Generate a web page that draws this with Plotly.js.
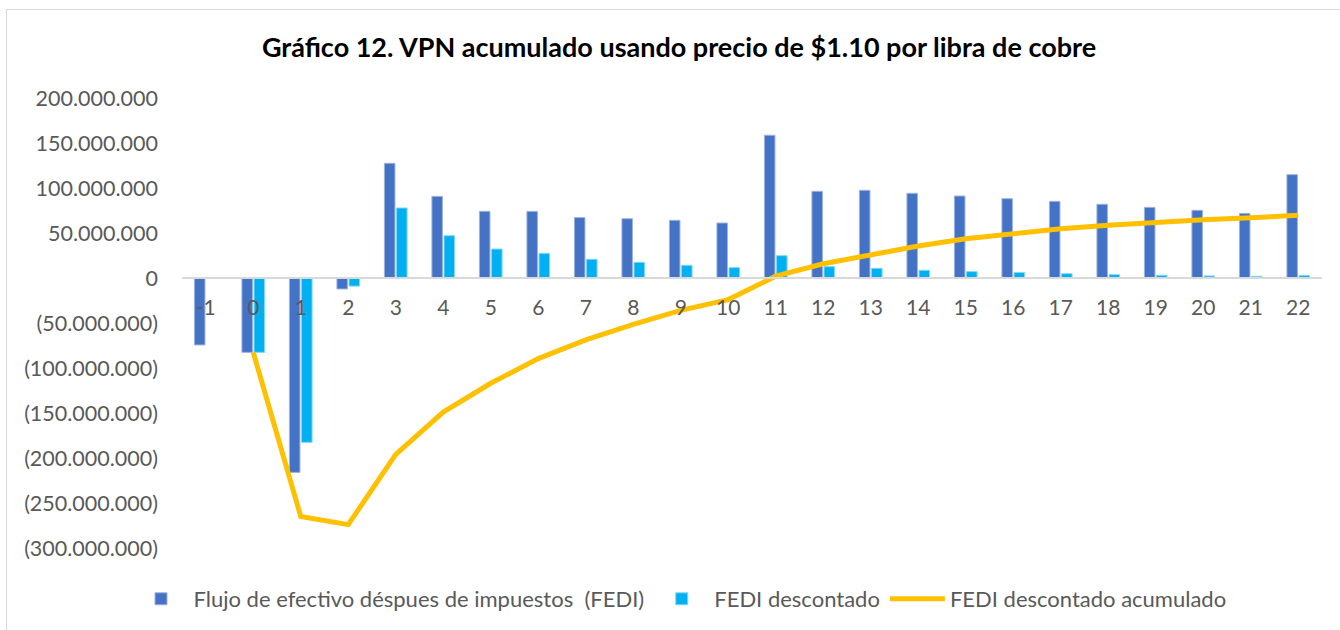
<!DOCTYPE html>
<html>
<head>
<meta charset="utf-8">
<script src="https://cdn.plot.ly/plotly-3.0.1.min.js"></script>
<style>
html,body{margin:0;padding:0;background:#fff;}
#wrap{position:relative;width:1340px;height:630px;overflow:hidden;}
#chart{width:1340px;height:630px;}
#frame{position:absolute;left:6px;top:9px;width:1400px;height:700px;border-left:1.5px solid #D9D9D9;border-top:1.5px solid #D9D9D9;pointer-events:none;}
</style>
</head>
<body>
<div id="wrap"><div id="chart"></div><div id="frame"></div></div>
<script>
// Data
const periods = ["-1","0","1","2","3","4","5","6","7","8","9","10","11","12","13","14","15","16","17","18","19","20","21","22"];
const fedi = [-74400000,-82600000,-216000000,-12200000,127400000,90700000,74100000,74000000,67100000,65900000,64100000,61100000,158600000,96300000,97400000,94100000,91100000,88100000,85200000,81900000,78500000,75200000,71800000,114800000];
const fediDescontado = [null,-82600000,-182600000,-9000000,77800000,47000000,32200000,27400000,20800000,17400000,14100000,11500000,24800000,12600000,10800000,8600000,7100000,6000000,4800000,3700000,3000000,2300000,1900000,2800000];
const acumPeriods = ["0","1","2","3","4","5","6","7","8","9","10","11","12","13","14","15","16","17","18","19","20","21","22"];
const fediAcumulado = [-82600000,-265000000,-274000000,-196000000,-149000000,-117000000,-89500000,-68800000,-51500000,-36000000,-24000000,2000000,15800000,26000000,35500000,43500000,49600000,54800000,58600000,62000000,64800000,67000000,69600000];
const yTickVals = [200000000,150000000,100000000,50000000,0,-50000000,-100000000,-150000000,-200000000,-250000000,-300000000];
const yTickText = ["200.000.000","150.000.000","100.000.000","50.000.000","0","(50.000.000)","(100.000.000)","(150.000.000)","(200.000.000)","(250.000.000)","(300.000.000)"];
const names = ["Flujo de efectivo déspues de impuestos  (FEDI)","FEDI descontado","FEDI descontado acumulado"];
const titleText = "Gráfico 12. VPN acumulado usando precio de $1.10 por libra de cobre";

const traces = [
  {type:'bar', name:names[0], x:periods, y:fedi,
   marker:{color:'#4472C4', line:{color:'#9DB3E0', width:1}}, hoverinfo:'x+y'},
  {type:'bar', name:names[1], x:periods, y:fediDescontado,
   marker:{color:'#00B0F0', line:{color:'#80D7F7', width:1}}, hoverinfo:'x+y'},
  {type:'scatter', mode:'lines', name:names[2], x:acumPeriods, y:fediAcumulado,
   line:{color:'#FFC000', width:5, shape:'linear'}, hoverinfo:'x+y'}
];

const font = {family:'Lato, "Open Sans", sans-serif', color:'#595959'};

const layout = {
  width:1340, height:630,
  paper_bgcolor:'#FFFFFF', plot_bgcolor:'#FFFFFF',
  margin:{l:182, r:18, t:98, b:82},
  font:font,
  title:{text:titleText, font:{family:'Lato, sans-serif', size:27, color:'#000000', weight:700},
         x:679/1340, xref:'container', xanchor:'center', y:1-48/630, yref:'container', yanchor:'middle'},
  barmode:'group', bargap:0.49, bargroupgap:0.13,
  xaxis:{type:'category', categoryorder:'array', categoryarray:periods,
         anchor:'free', position:0.6, showline:true, linecolor:'#D9D9D9', linewidth:2,
         showgrid:false, zeroline:false, ticks:'', ticklabelstandoff:11,
         tickfont:{family:'Lato, sans-serif', size:21, color:'#595959'}},
  yaxis:{range:[-300000000,200000000], tickvals:yTickVals, ticktext:yTickText,
         showgrid:false, zeroline:false, showline:false, ticks:'', ticklabelstandoff:23,
         tickfont:{family:'Lato, sans-serif', size:21.5, color:'#595959'}},
  showlegend:true,
  legend:{orientation:'h', x:680/1340, xref:'container', xanchor:'center',
          y:1-599/630, yref:'container', yanchor:'middle',
          font:{family:'Lato, sans-serif', size:22, color:'#595959'},
          itemwidth:55, traceorder:'normal', bgcolor:'rgba(0,0,0,0)'}
};

Plotly.newPlot('chart', traces, layout, {displayModeBar:false, staticPlot:true});
</script>
</body>
</html>
